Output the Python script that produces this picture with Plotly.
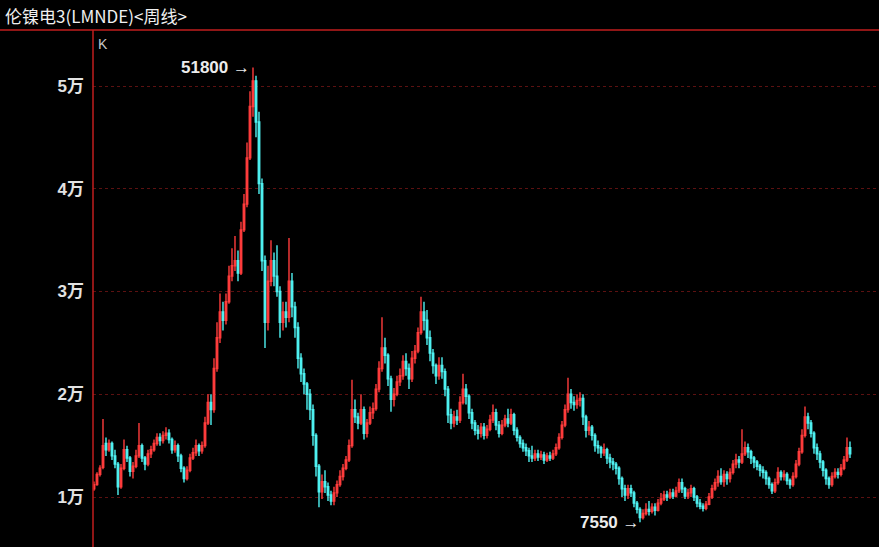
import plotly.graph_objects as go

# Weekly candles, LME nickel 3M
opens = [
10800,11200,12200,12900,15200,14600,15200,14000,13200,11000,12800,14600,13800,12500,13000,14000,15000,13800,13200,14200,14600,15200,15800,15500,16000,16200,15600,14600,15000,14000,12800,11800,12600,13800,14300,15000,14500,15000,17200,19200,18500,22500,25500,
28000,27200,29000,31500,32500,33000,31800,36000,38500,43000,48000,50500,46500,40500,33000,27000,31000,33000,31500,30000,27000,28000,27500,31000,28500,26500,23500,22000,21000,20000,18500,16000,13000,10500,11500,11000,10200,9600,10400,11200,12000,
12800,13600,15000,18500,17800,17200,18500,16200,17200,18200,18600,20500,22500,24500,23800,21500,19500,20000,21200,21800,23200,22500,21500,23500,24200,26000,28000,27200,25500,24000,22800,21800,22800,22200,20500,18000,17200,17800,17500,19200,20500,19800,18200,
17200,16500,16200,16800,16000,16600,17500,18200,17000,16200,17000,17600,17200,18000,16500,15800,15200,14800,14500,14000,13800,14200,13900,14100,13600,14000,13800,14200,14800,15800,17000,18500,20000,19200,19000,19400,19600,17800,16500,16800,16000,
15000,14800,14300,14600,13800,13400,13200,12800,11800,10800,10200,10800,10400,9400,8800,8000,8400,8800,8600,9000,8700,9400,9800,10200,10000,10400,10100,10600,11400,10800,10100,10400,10800,10000,9400,9100,8900,9300,10000,10800,11400,12000,11500,12200,
11800,12400,13200,13600,13400,14200,14800,14400,13800,13400,13000,12600,12400,11800,11200,10600,11400,12400,12000,12200,11600,11200,12000,13200,14400,16000,17800,17200,16200,14800,14200,13400,12600,11800,11200,12000,12400,12200,12800,13600,14800]

closes = [
11200,12200,12800,15000,14600,15200,14000,13200,11000,12800,14600,13800,12500,13000,14000,15000,13800,13200,14200,14600,15200,15800,15500,16000,16200,15600,14600,15000,14000,12800,11800,12600,13800,14300,15000,14500,15000,17200,19200,18500,22500,25500,28000,
27200,29000,31500,32500,33000,31800,36000,38500,43000,48000,50500,46500,40500,33000,27000,31000,33000,31500,30000,27000,28000,27500,31000,28500,26500,23500,22000,21000,20000,18500,16000,13000,10500,11500,11000,10200,9600,10400,11200,12000,12800,
13600,15000,18500,17800,17200,18500,16200,17200,18200,18600,20500,22500,24500,23800,21500,19500,20000,21200,21800,23200,22500,21500,23500,24200,26000,28000,27200,25500,24000,22800,21800,22800,22200,20500,18000,17200,17800,17500,19200,20500,19800,18200,17200,
16500,16200,16800,16000,16600,17500,18200,17000,16200,17000,17600,17200,18000,16500,15800,15200,14800,14500,14000,13800,14200,13900,14100,13600,14000,13800,14200,14800,15800,17000,18500,20000,19200,19000,19400,19600,17800,16500,16800,16000,15000,
14800,14300,14600,13800,13400,13200,12800,11800,10800,10200,10800,10400,9400,8800,8000,8400,8800,8600,9000,8700,9400,9800,10200,10000,10400,10100,10600,11400,10800,10100,10400,10800,10000,9400,9100,8900,9300,10000,10800,11400,12000,11500,12200,11800,
12400,13200,13600,13400,14200,14800,14400,13800,13400,13000,12600,12400,11800,11200,10600,11400,12400,12000,12200,11600,11200,12000,13200,14400,16000,17800,17200,16200,14800,14200,13400,12600,11800,11200,12000,12400,12200,12800,13600,14800,14200]

highs = [
11500,12400,13100,17600,15800,15600,15400,14600,13400,13200,15600,15000,14000,13400,14600,17200,15200,14000,14600,15000,15600,16200,16200,16400,16800,16600,15800,15500,15200,14200,13000,13000,14200,14800,15600,15200,15400,17800,20000,20000,23500,27000,29800,
29000,29800,32500,34200,35400,34000,36800,39500,44500,49500,51800,51000,47500,41000,33500,32500,35000,33800,34500,30500,29000,29000,35200,31800,29000,27000,24000,22500,21200,20500,19000,16200,13200,12200,12600,11400,10600,11000,11600,12600,13200,
14000,15600,21400,19500,18200,20000,18800,17600,18800,19200,21000,23200,27500,25500,24000,21800,20600,21800,22500,23800,24000,23000,24200,24800,26500,29500,29000,28200,26200,24400,23000,23600,23600,22500,20800,18600,18400,18500,19800,22000,21000,20000,18600,
17500,17000,17200,17200,17000,18000,19000,18600,17400,17500,18000,18600,18600,18200,16800,16000,15600,15200,14800,15000,14600,14600,14500,14400,14300,14400,14600,15200,16200,17400,19000,21600,20500,19800,20000,20200,20000,18000,17400,17000,16200,
15500,15000,15200,14800,14200,13800,13400,13000,12000,11200,11200,11200,10600,9600,9000,8800,9400,9600,9400,9400,9800,10400,10600,10600,10800,10800,11000,11800,11800,11000,10800,11200,11000,10200,9800,9400,9600,10400,11200,11800,12600,12800,12600,12500,
12800,13600,14200,14000,16600,15400,15200,14600,14000,13600,13200,13000,12600,12000,11400,11800,12900,12600,12600,12400,11800,12400,13600,14800,16600,18800,18200,17500,16400,15200,14500,13600,12800,12000,12400,12800,12800,13200,14000,15800,15400]

lows = [
10600,11100,12000,12700,14000,14400,13600,12800,10200,10800,12600,13400,12000,11800,12800,13800,13400,12600,13000,13800,14400,15000,15000,15200,15600,15200,14200,14300,13400,12400,11400,11600,12400,13600,14000,14000,14200,14800,17000,17000,18200,22200,25000,
26200,26800,28800,31000,32000,31000,31600,35800,38200,42800,47000,45000,39500,32000,24500,26200,30500,30500,29500,25500,26200,26500,27000,27500,25500,22500,21200,20000,18500,17500,15000,12000,9000,9800,10400,9600,9200,9200,10000,11000,11600,
12600,13400,14800,17200,16600,17000,15600,15800,17000,17600,18400,20200,22200,23000,20800,18300,18800,19800,20800,21400,21800,20500,21200,23000,24000,25800,26200,24800,23200,22000,21000,21400,21500,19800,17200,16600,16800,17000,17200,19000,19000,17600,16600,
16000,15600,15800,15600,15700,16400,17200,16500,15800,16000,16800,16800,17000,16000,15400,14800,14400,14000,13400,13400,13500,13500,13600,13200,13400,13500,13600,14000,14600,15600,16800,18200,18600,18400,18600,18800,17000,15800,16000,15500,14400,
14200,13800,14000,13200,12800,12600,12200,11200,10000,9600,9800,10000,9000,8400,7550,7800,8200,8200,8400,8200,8600,9200,9600,9600,9800,9800,10000,10400,10400,9800,9800,10000,9600,9000,8800,8600,8700,9200,9800,10600,11000,11200,11000,11200,
11400,12200,12800,12800,13200,14000,13800,13200,12800,12600,12000,11800,11200,10800,10300,10400,11200,11600,11600,11200,10800,11000,11800,13000,14200,15800,16600,15800,14200,13600,12800,12000,11200,10800,11000,11800,11800,12000,12600,13400,13800]

weeks = list(range(len(closes)))

tick_values = [10000, 20000, 30000, 40000, 50000]
tick_labels = ["1万", "2万", "3万", "4万", "5万"]

title_text = "伦镍电3(LMNDE)<周线>"

UP = "#ff3c3c"
DOWN = "#4ff2f2"
AXIS_RED = "#c01e1e"
CJK = "Liberation Sans, Noto Sans CJK SC, sans-serif"

fig = go.Figure(go.Candlestick(
    x=weeks, open=opens, high=highs, low=lows, close=closes,
    increasing=dict(line=dict(color=UP, width=1.4), fillcolor=UP),
    decreasing=dict(line=dict(color=DOWN, width=1.4), fillcolor=DOWN),
    whiskerwidth=0, hoverinfo="skip",
))

i_hi = highs.index(max(highs))
i_lo = lows.index(min(lows))

fig.update_layout(
    width=879, height=547,
    margin=dict(l=93, r=0, t=30, b=0),
    paper_bgcolor="black", plot_bgcolor="black",
    showlegend=False,
    xaxis=dict(range=[-0.33, 261.67], visible=False, fixedrange=True,
               rangeslider=dict(visible=False)),
    yaxis=dict(range=[5134, 55450], tickvals=tick_values, ticktext=tick_labels,
               showgrid=True, gridcolor="#5c1111", griddash="dot", gridwidth=1,
               zeroline=False, showline=False, ticks="",
               tickfont=dict(family=CJK, size=17, color="#e2e2e2", weight="bold"),
               ticklabelstandoff=8),
    shapes=[
        dict(type="line", xref="paper", yref="paper", x0=0, x1=0, y0=0, y1=1,
             line=dict(color=AXIS_RED, width=1.5), layer="above"),
        dict(type="line", xref="paper", yref="paper", x0=-0.12, x1=1, y0=1, y1=1,
             line=dict(color=AXIS_RED, width=1.5), layer="above"),
    ],
    annotations=[
        dict(text=title_text, xref="paper", yref="paper", x=-0.1145, y=1.029,
             xanchor="left", yanchor="middle", showarrow=False,
             font=dict(family="Noto Sans CJK SC", size=17, color="#f0f0f0")),
        dict(text="K", xref="paper", yref="paper", x=0.004, y=0.972,
             xanchor="left", yanchor="middle", showarrow=False,
             font=dict(family="Liberation Sans", size=14, color="#c8c8c8")),
        dict(text=f"{max(highs)} →", x=weeks[i_hi], y=max(highs),
             xanchor="right", yanchor="middle", xshift=-1, showarrow=False,
             font=dict(family=CJK, size=17, color="#ececec", weight="bold")),
        dict(text=f"{min(lows)} →", x=weeks[i_lo], y=min(lows),
             xanchor="right", yanchor="middle", xshift=2, showarrow=False,
             font=dict(family=CJK, size=17, color="#ececec", weight="bold")),
    ],
)

fig.write_html("out.html",
               config={"displayModeBar": False, "staticPlot": True},
               post_script="document.body.style.margin='0';document.body.style.overflow='hidden';")
